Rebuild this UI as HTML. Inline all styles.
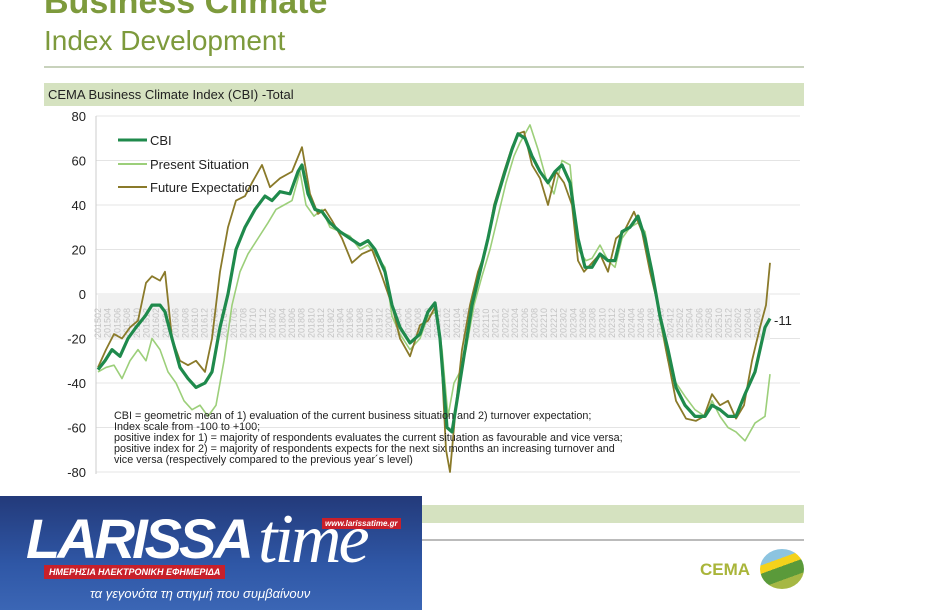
<!DOCTYPE html>
<html><head><meta charset="utf-8"><style>
body{margin:0;width:940px;height:610px;background:#fff;overflow:hidden;font-family:"Liberation Sans",sans-serif;position:relative}
.t1{position:absolute;left:44px;top:-17px;font-size:34px;font-weight:bold;color:#7d9a3c}
.t2{position:absolute;left:44px;top:25px;font-size:28px;color:#7d9a3c}
.hr{position:absolute;left:44px;width:760px;height:2px;background:#c8d2bc}
.band{position:absolute;left:44px;width:760px;background:#d5e2c0}
.logo{position:absolute;left:0;top:496px;width:422px;height:114px;background:linear-gradient(#233a7a,#2f57a6 60%,#3b66b5);overflow:hidden}
</style></head><body>
<div class="t1">Business Climate</div>
<div class="t2">Index Development</div>
<div class="hr" style="top:66px"></div>
<div class="band" style="top:83px;height:23px"><span style="position:absolute;left:4px;top:4px;font-size:13px;color:#222">CEMA Business Climate Index (CBI) -Total</span></div>
<div class="band" style="top:505px;height:18px"></div>
<div class="hr" style="top:539px;background:#bbb"></div>
<svg id="s" width="940" height="610" style="position:absolute;left:0;top:0" font-family="Liberation Sans, sans-serif"></svg>
<div style="position:absolute;left:700px;top:560px;font-size:17px;font-weight:bold;color:#a9b53a">CEMA</div>
<div style="position:absolute;left:760px;top:549px;width:44px;height:40px;border-radius:50%;background:linear-gradient(160deg,#8cc4e0 0 30%,#f4d21c 30% 45%,#5a9a3a 45% 70%,#a6b844 70%)"></div>
<div class="logo">
<div style="position:absolute;left:26px;top:10px;font-size:56px;font-weight:bold;font-style:italic;color:#fff;letter-spacing:-3px">LARISSA</div>
<div style="position:absolute;left:258px;top:4px;font-size:70px;font-style:italic;color:#fff;font-family:'Liberation Serif',serif;letter-spacing:-3px">time</div>
<div style="position:absolute;left:322px;top:22px;background:#c8202a;color:#fff;font-size:8px;font-style:italic;font-weight:bold;padding:1px 3px">www.larissatime.gr</div>
<div style="position:absolute;left:44px;top:69px;background:#c8202a;color:#fff;font-size:9px;font-style:italic;font-weight:bold;padding:2px 5px">ΗΜΕΡΗΣΙΑ ΗΛΕΚΤΡΟΝΙΚΗ ΕΦΗΜΕΡΙΔΑ</div>
<div style="position:absolute;left:90px;top:90px;color:#fff;font-size:13px;font-style:italic">τα γεγονότα τη στιγμή που συμβαίνουν</div>
</div>
<script>
var s=document.getElementById('s'),h='';
function Y(v){return 294-v*2.225}
for(var v=-80;v<=80;v+=20){var y=Y(v);h+='<line x1="96" x2="800" y1="'+y+'" y2="'+y+'" stroke="#e4e4e4"/><text x="86" y="'+(y+5)+'" font-size="13" text-anchor="end" fill="#222">'+v+'</text>';}
h+='<line x1="96" x2="96" y1="116" y2="474" stroke="#ccc"/>';
h+='<rect x="98" y="294" width="672" height="46" fill="#f1f1f1"/>';
var yr=2015,m=2;for(var x=101;x<770;x+=9.7){var lab=yr+(m<10?'0':'')+m;h+='<text transform="translate('+x+',338) rotate(-90)" font-size="9" fill="#c4c4c4">'+lab+'</text>';m+=2;if(m>12){m-=12;yr++;}}
function P(a,c,w){var p=[];for(var i=0;i<a.length;i+=2)p.push(a[i]+','+Y(a[i+1]));h+='<polyline points="'+p.join(' ')+'" fill="none" stroke="'+c+'" stroke-width="'+w+'" stroke-linejoin="round"/>';}
var ps=[98,-35,106,-33,114,-32,122,-38,130,-30,138,-25,146,-30,152,-20,160,-25,168,-35,176,-40,184,-48,192,-52,200,-50,208,-55,216,-50,224,-30,232,-5,240,10,248,18,258,25,268,32,276,38,284,40,292,42,300,55,306,40,314,35,322,38,330,30,340,28,350,26,360,20,368,22,375,18,385,12,392,-10,400,-18,410,-25,420,-20,428,-10,436,-8,442,-25,448,-55,454,-40,460,-35,466,-25,474,-5,482,8,490,20,498,35,506,50,514,62,520,68,530,76,538,65,546,52,554,45,562,60,570,58,578,20,586,15,592,16,600,22,608,15,615,12,622,25,630,30,638,32,645,28,652,10,660,-12,668,-30,676,-40,685,-46,695,-52,705,-55,712,-48,720,-55,728,-60,736,-62,745,-66,755,-58,765,-55,770,-36];
var fe=[98,-33,106,-25,114,-18,122,-20,130,-15,138,-12,146,5,152,8,160,6,165,10,172,-20,180,-30,188,-32,196,-30,205,-35,212,-20,220,10,228,30,236,42,245,44,252,50,262,58,270,48,280,52,292,55,302,66,310,45,318,36,325,38,332,33,342,25,352,14,362,18,372,20,382,8,392,-5,400,-20,410,-28,420,-14,428,-12,436,-5,441,-25,446,-70,450,-80,456,-50,462,-25,470,-5,478,10,486,20,494,40,504,55,512,66,518,72,524,73,532,58,540,52,548,40,556,55,564,50,572,40,578,15,584,10,592,14,600,18,608,10,616,25,624,28,634,37,642,28,650,10,658,-5,666,-25,676,-48,686,-56,696,-57,704,-55,712,-45,720,-50,728,-48,736,-56,744,-50,752,-30,760,-15,766,-5,770,14];
var cbi=[98,-34,105,-30,112,-25,120,-28,128,-20,136,-15,145,-10,152,-5,160,-5,165,-8,172,-20,180,-33,188,-38,196,-42,205,-40,212,-35,220,-15,228,0,236,20,245,30,255,38,265,44,272,42,280,46,290,45,298,55,302,58,308,45,315,38,322,37,330,32,340,28,350,25,360,22,368,24,375,20,385,10,392,-5,400,-15,410,-22,420,-18,428,-8,435,-4,440,-20,447,-60,452,-62,458,-45,465,-25,472,-5,480,10,488,25,495,40,505,55,512,65,518,72,525,70,532,62,540,55,548,50,555,55,562,58,570,50,578,25,585,12,592,12,600,18,608,15,615,15,622,28,630,30,638,35,645,25,652,10,660,-10,668,-25,676,-42,685,-50,695,-55,705,-55,712,-50,720,-52,728,-55,736,-55,745,-45,755,-35,765,-15,770,-11];
P(ps,'#9ccf7a',1.6);P(fe,'#8a7a2a',1.8);P(cbi,'#1f8a4c',3.2);
h+='<text x="774" y="325" font-size="13" fill="#222">-11</text>';
h+='<line x1="118" x2="147" y1="140" y2="140" stroke="#1f8a4c" stroke-width="3"/><text x="150" y="145" font-size="13" fill="#222">CBI</text>';
h+='<line x1="118" x2="147" y1="164" y2="164" stroke="#9ccf7a" stroke-width="2"/><text x="150" y="169" font-size="13" fill="#222">Present Situation</text>';
h+='<line x1="118" x2="147" y1="187" y2="187" stroke="#8a7a2a" stroke-width="2"/><text x="150" y="192" font-size="13" fill="#222">Future Expectation</text>';
var n=['CBI = geometric mean of 1) evaluation of the current business situation and 2) turnover expectation;','Index scale from -100 to +100;','positive index for 1) = majority of respondents evaluates the current situation as favourable and vice versa;','positive index for 2) = majority of respondents expects for the next six months an increasing turnover and','vice versa (respectively compared to the previous year\u00b4s level)'];
for(var i=0;i<n.length;i++)h+='<text x="114" y="'+(419+i*11)+'" font-size="10.8" fill="#222">'+n[i]+'</text>';
s.innerHTML=h;
</script>
</body></html>
